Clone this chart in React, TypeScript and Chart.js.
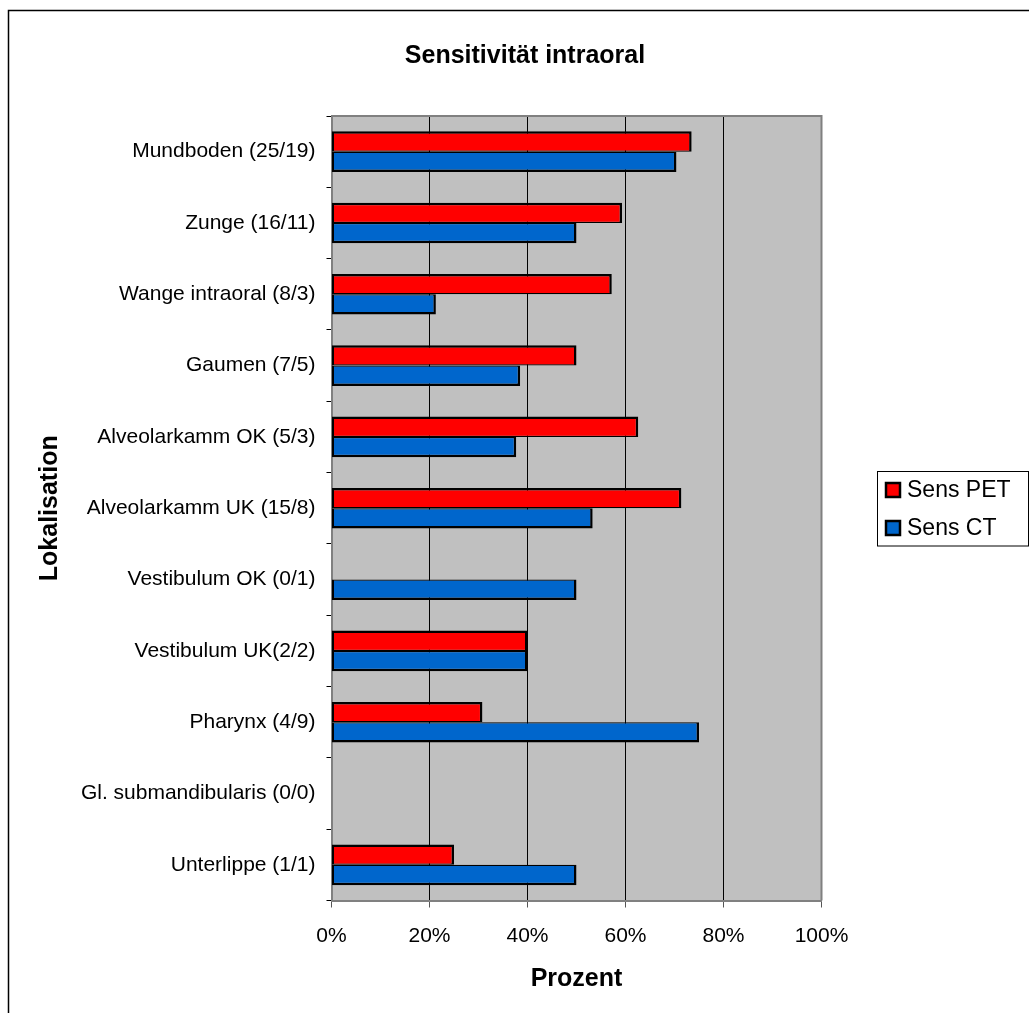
import { useEffect, useRef } from "react";
import { Chart, registerables } from "chart.js";

Chart.register(...registerables);

// Localisations (number of cases PET / CT)
const categories = [
  "Mundboden (25/19)",
  "Zunge (16/11)",
  "Wange intraoral (8/3)",
  "Gaumen (7/5)",
  "Alveolarkamm OK (5/3)",
  "Alveolarkamm UK (15/8)",
  "Vestibulum OK (0/1)",
  "Vestibulum UK(2/2)",
  "Pharynx (4/9)",
  "Gl. submandibularis (0/0)",
  "Unterlippe (1/1)",
];

// Sensitivity in percent; null where there are no cases
const sensPET = [73.5, 59.3, 57.2, 50.0, 62.6, 71.4, null, 40.0, 30.8, null, 25.0];
const sensCT = [70.4, 50.0, 21.3, 38.5, 37.7, 53.3, 50.0, 40.0, 75.0, null, 50.0];

const seriesNames = ["Sens PET", "Sens CT"];
const seriesColors = ["#FF0000", "#0066CC"];
const xTickValues = [0, 20, 40, 60, 80, 100];

const chartTitle = "Sensitivität intraoral";
const xTitle = "Prozent";
const yTitle = "Lokalisation";

const FONT = "'Liberation Sans', Arial, sans-serif";

const decorations = {
  id: "decorations",
  beforeDraw(chart: any) {
    const { ctx, chartArea: a, width, height } = chart;
    ctx.save();
    ctx.fillStyle = "#ffffff";
    ctx.fillRect(0, 0, width, height);
    // outer frame (continues past the right and bottom edges)
    ctx.strokeStyle = "#000000";
    ctx.lineWidth = 1.5;
    ctx.beginPath();
    ctx.moveTo(8.5, height + 5);
    ctx.lineTo(8.5, 10.5);
    ctx.lineTo(width + 5, 10.5);
    ctx.stroke();
    // plot background
    ctx.fillStyle = "#C0C0C0";
    ctx.fillRect(a.left, a.top, a.right - a.left, a.bottom - a.top);
    ctx.restore();
  },
  beforeDatasetsDraw(chart: any) {
    const { ctx, chartArea: a } = chart;
    ctx.save();
    ctx.strokeStyle = "#808080";
    ctx.lineWidth = 2;
    ctx.beginPath();
    ctx.moveTo(a.left, a.top);
    ctx.lineTo(a.right, a.top);
    ctx.lineTo(a.right, a.bottom);
    ctx.stroke();
    ctx.restore();
  },
  afterDraw(chart: any) {
    const { ctx } = chart;
    ctx.save();
    // title
    ctx.fillStyle = "#000000";
    ctx.font = `bold 25px ${FONT}`;
    ctx.textAlign = "center";
    ctx.textBaseline = "middle";
    ctx.fillText(chartTitle, 525, 56);

    // legend
    ctx.strokeStyle = "#000000";
    ctx.lineWidth = 1;
    ctx.strokeRect(877.5, 471.5, 151, 74.5);
    const rows = [490, 528];
    chart.data.datasets.forEach((ds: any, i: number) => {
      const cy = rows[i];
      ctx.fillStyle = ds.backgroundColor;
      ctx.fillRect(885, cy - 8, 16, 16);
      ctx.lineWidth = 2.5;
      ctx.strokeStyle = "#000000";
      ctx.strokeRect(886, cy - 7, 14, 14);
      ctx.fillStyle = "#000000";
      ctx.font = `23px ${FONT}`;
      ctx.textAlign = "left";
      ctx.textBaseline = "middle";
      ctx.fillText(ds.label, 907, cy + 1);
    });
    ctx.restore();
  },
};

export default function App() {
  const canvasRef = useRef<HTMLCanvasElement | null>(null);

  useEffect(() => {
    if (!canvasRef.current) return;
    const chart = new Chart(canvasRef.current, {
      type: "bar",
      data: {
        labels: categories,
        datasets: [
          {
            label: seriesNames[0],
            data: sensPET,
            backgroundColor: seriesColors[0],
            borderColor: "#000000",
            borderWidth: { top: 2.5, right: 2.5, bottom: 1.25, left: 2 },
            borderSkipped: false,
            categoryPercentage: 0.57,
            barPercentage: 1,
          },
          {
            label: seriesNames[1],
            data: sensCT,
            backgroundColor: seriesColors[1],
            borderColor: "#000000",
            borderWidth: { top: 1.25, right: 2.5, bottom: 2.5, left: 2 },
            borderSkipped: false,
            categoryPercentage: 0.57,
            barPercentage: 1,
          },
        ],
      },
      options: {
        indexAxis: "y",
        responsive: false,
        devicePixelRatio: 1,
        animation: false,
        layout: { padding: { top: 116, right: 207.5, bottom: 0, left: 0 } },
        plugins: {
          legend: { display: false },
          title: { display: false },
          tooltip: { enabled: false },
        },
        scales: {
          x: {
            type: "linear",
            min: 0,
            max: 100,
            afterBuildTicks: (s: any) => {
              s.ticks = xTickValues.map((v) => ({ value: v }));
            },
            ticks: {
              color: "#000000",
              font: { family: FONT, size: 21 },
              padding: 16,
              callback: (v: any) => `${v}%`,
            },
            grid: {
              color: "#000000",
              lineWidth: 1,
              tickLength: 7,
              tickColor: "#555555",
            },
            border: { color: "#808080", width: 2 },
            title: {
              display: true,
              text: xTitle,
              color: "#000000",
              font: { family: FONT, size: 25, weight: "bold" },
              padding: { top: 0, bottom: 19 },
            },
            afterFit: (s: any) => {
              s.height = 112.5;
            },
          },
          y: {
            type: "category",
            ticks: {
              color: "#000000",
              font: { family: FONT, size: 21 },
              padding: 11,
            },
            grid: {
              drawOnChartArea: false,
              tickLength: 5,
              tickColor: "#000000",
              lineWidth: 1,
              offset: true,
            },
            border: { color: "#808080", width: 2 },
            title: {
              display: true,
              text: yTitle,
              color: "#000000",
              font: { family: FONT, size: 25, weight: "bold" },
              padding: { top: 35, bottom: 0 },
            },
            afterFit: (s: any) => {
              s.width = 331.5;
            },
          },
        },
      },
      plugins: [decorations],
    } as any);
    return () => chart.destroy();
  }, []);

  return (
    <canvas
      ref={canvasRef}
      width={1029}
      height={1013}
      style={{ position: "fixed", left: 0, top: 0, width: 1029, height: 1013 }}
    />
  );
}
